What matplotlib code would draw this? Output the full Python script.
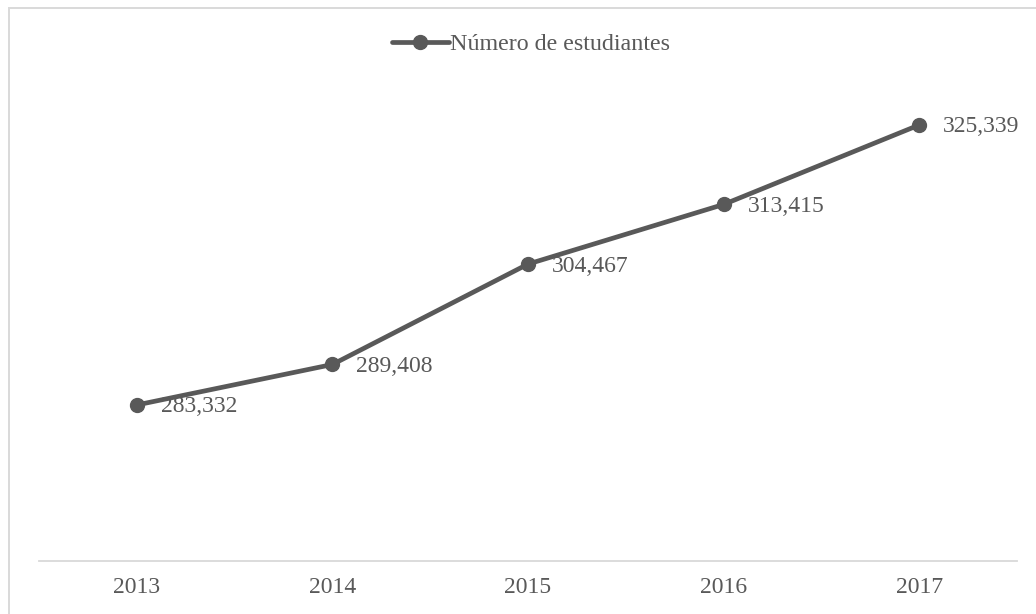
import matplotlib.pyplot as plt
from matplotlib.patches import Rectangle

# Student enrolment by year
years = ['2013', '2014', '2015', '2016', '2017']
students = [283332, 289408, 304467, 313415, 325339]

line_color = '#595959'
text_color = '#595959'
grid_color = '#d9d9d9'

plt.rcParams['font.family'] = ['Liberation Serif', 'DejaVu Serif']

fig = plt.figure(figsize=(10.36, 6.14), dpi=100)
ax = fig.add_axes([0.0376, 0.0871, 0.9441, 0.760])

x = range(len(years))
line, = ax.plot(x, students, color=line_color, linewidth=3.4, marker='o',
                markersize=10, solid_capstyle='round',
                label='Número de estudiantes')

for xi, v in zip(x, students):
    ax.annotate(f'{v:,}', (xi, v), xytext=(24, -2), textcoords='offset pixels',
                ha='left', va='center', fontsize=17, color=text_color)

ax.set_xlim(-0.5, 4.5)
ax.set_ylim(260000, 330000)
ax.set_xticks(list(x))
ax.set_xticklabels(years, fontsize=17, color=text_color)
ax.tick_params(axis='x', length=0, pad=12)
ax.set_yticks([])

for side in ['top', 'right', 'left']:
    ax.spines[side].set_visible(False)
ax.spines['bottom'].set_color(grid_color)
ax.spines['bottom'].set_linewidth(1.3)

fig.legend(handles=[line], loc='center', bbox_to_anchor=(0.5125, 0.928),
           frameon=False, fontsize=17.3, handlelength=2.4,
           handletextpad=0.05, labelcolor=text_color)

# chart area outline
fig.patches.append(Rectangle((9 / 1036, -0.1), 1.2, (614 - 8) / 614 + 0.1,
                             transform=fig.transFigure, fill=False,
                             edgecolor=grid_color, linewidth=1.4,
                             clip_on=False))

fig.savefig('out.png', dpi=100)
